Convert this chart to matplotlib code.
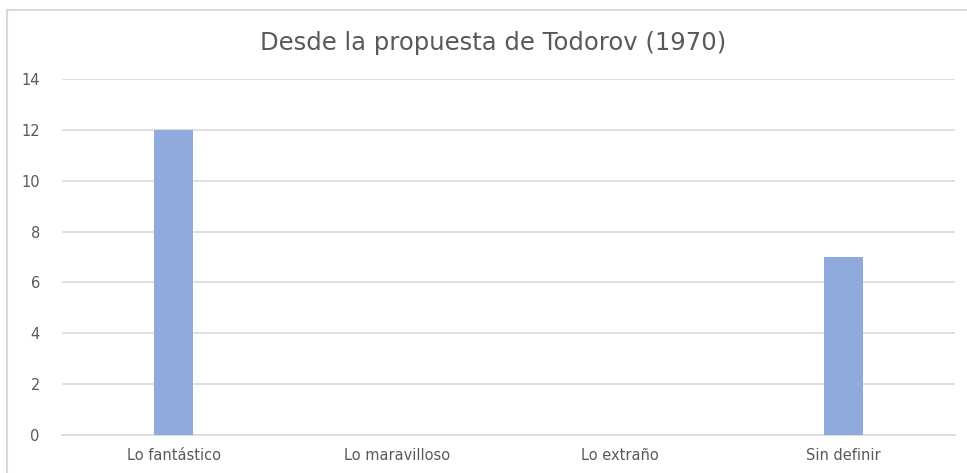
import matplotlib
matplotlib.use("Agg")
import matplotlib.pyplot as plt
from matplotlib.lines import Line2D

categories = ["Lo fantástico", "Lo maravilloso", "Lo extraño", "Sin definir"]
values = [12, 0, 0, 7]
yticks = [0, 2, 4, 6, 8, 10, 12, 14]
title = "Desde la propuesta de Todorov (1970)"

plt.rcParams['font.family'] = ['DejaVu Sans']
plt.rcParams['font.stretch'] = 'normal'

fig = plt.figure(figsize=(9.67, 4.73), dpi=100)
ax = fig.add_axes([62/967, 1-435/473, (955-62)/967, (435-79)/473])

x = list(range(len(categories)))
ax.bar(x, values, width=0.175, color="#8FAADC", zorder=3)
ax.set_xlim(-0.5, len(categories)-0.5)
ax.set_ylim(0, 14)
ax.set_yticks(yticks)
ax.set_xticks(x)
ax.set_xticklabels(categories)
ax.grid(axis='y', color="#D9D9D9", linewidth=1.2, zorder=0)
for s in ['top', 'right', 'left']:
    ax.spines[s].set_visible(False)
ax.spines['bottom'].set_color("#D9D9D9")
ax.spines['bottom'].set_linewidth(1.2)
ax.tick_params(axis='both', length=0, labelsize=10.5, labelcolor="#595959")
ax.tick_params(axis='y', pad=16)
ax.tick_params(axis='x', pad=9)

fig.text(493/967, 1-43/473, title, ha='center', va='center', fontsize=17.5, color="#595959")

fig.add_artist(Line2D([7/967, 1.0], [1-10/473, 1-10/473], color="#D9D9D9", linewidth=1.5, transform=fig.transFigure))
fig.add_artist(Line2D([7/967, 7/967], [0, 1-10/473], color="#D9D9D9", linewidth=1.5, transform=fig.transFigure))

fig.savefig("out.png", dpi=100)
